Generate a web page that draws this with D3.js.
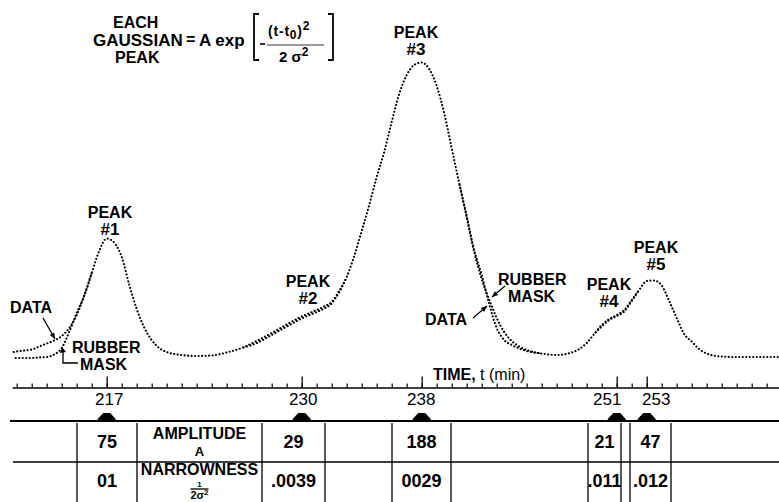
<!DOCTYPE html>
<html><head><meta charset="utf-8">
<script src="https://cdn.jsdelivr.net/npm/d3@7"></script>
<style>
body{margin:0;background:#fff;}
svg{display:block;background:#fff;}
text{font-family:"Liberation Sans",Arial,sans-serif;font-weight:bold;fill:#000;}
</style></head><body>
<svg id="c" width="779" height="502"></svg>
<script>
// ---- data ----
const times = [210.8,211,211.5,212,212.5,213,213.5,214,214.5,215,215.5,216,216.5,217,217.5,218,218.5,219,219.5,220,220.5,221,222,223,224,225,226,227,228,229,230,231,231.5,232,232.5,233,233.5,234,234.5,235,235.5,236,236.5,237,237.5,238,238.5,239,239.5,240,240.5,241,241.5,242,242.5,243,243.5,244,244.5,245,246,247,248,248.5,249,249.5,250,250.5,251,251.5,252,252.5,253,253.5,254,254.5,255,255.5,256,256.5,257,258,259,260,261,261.8];
const dataValues = [5.3,5.7,6.3,7.0,9.0,11.0,13.0,16.0,21.3,30.0,43.0,
  58.0,72.7,81.0,78.3,68.7,50.3,34.0,21.7,13.3,8.0,5.3,3.3,2.7,3.0,5.0,8.0,
  12.7,18.0,23.7,29.0,33.3,35.7,38.7,46.0,
  55.3,69.3,86.0,103.3,122.0,138.7,158.7,177.3,190.0,196.7,198.3,194.0,182.7,164.7,141.3,118.0,
  96.0,73.3,56.7,37.3,21.3,13.3,10.0,7.7,6.0,4.3,
  3.3,5.0,7.3,11.3,17.3,
  23.3,27.3,30.0,33.3,40.0,
  46.7,52.7,53.0,49.7,39.3,28.0,17.3,12.3,7.3,4.3,2.3,2.0,2.0,2.0,2.0];
const maskValues = [1.3,1.3,1.3,1.3,1.7,2.0,3.7,8.0,18.7,31.3,42.7,
  58.0,72.7,81.0,78.3,68.7,50.3,34.0,21.7,13.3,8.0,5.3,3.3,2.7,3.0,5.0,8.0,
  11.3,16.7,22.3,27.7,32.0,34.3,37.7,45.3,
  55.3,69.3,86.0,103.3,122.0,138.7,158.7,177.3,190.0,196.7,198.3,194.0,182.7,164.7,141.3,118.0,
  95.3,72.0,54.0,40.3,28.0,18.7,12.7,9.0,6.7,4.3,
  3.3,5.0,7.3,11.3,17.3,
  22.3,26.7,29.3,32.3,39.3,
  46.7,52.7,53.0,49.7,39.3,28.0,17.3,12.3,7.3,4.3,2.3,2.0,2.0,2.0,2.0];
const peakTimes = [217,230,238,251,253];
const peakNames = ["#1","#2","#3","#4","#5"];
const amplitudes = ["75","29","188","21","47"];
const narrowness = ["01",".0039","0029",".011",".012"];
const minorTicks = d3.range(211, 262);

// ---- layout ----
const svg = d3.select("#c");
const x = d3.scaleLinear().domain([210.7, 261.8]).range([12.2, 778.7]);
const y = d3.scaleLinear().domain([0, 200]).range([360, 60]);
const axisY = 387.5, barY = 421, rowY = 462;
const cellEdges = [[77,137],[262,325],[392,451],[588,621],[630,671]];
const labelCell = [137,262];
const peakLabelPos = [[110,218],[308,287],[416,38],[609,290],[656,253]];
const tickLabelShift = [2,1,-1,-10,9];

function txt(s, px, py, size, anchor, extra){
  const t = svg.append("text").attr("x",px).attr("y",py).style("font-size",size+"px")
    .attr("text-anchor",anchor||"start").text(s);
  if(extra) extra(t);
  return t;
}
function seg(x1,y1,x2,y2,w){
  svg.append("line").attr("x1",x1).attr("y1",y1).attr("x2",x2).attr("y2",y2)
    .attr("stroke","#000").attr("stroke-width",w||1.3);
}
function arrow(x1,y1,x2,y2){
  seg(x1,y1,x2,y2,1.3);
  const a = Math.atan2(y2-y1,x2-x1), L=6, W=2.6;
  const bx = x2 - L*Math.cos(a), by = y2 - L*Math.sin(a);
  const p = [[x2,y2],[bx - W*Math.sin(a), by + W*Math.cos(a)],[bx + W*Math.sin(a), by - W*Math.cos(a)]];
  svg.append("path").attr("d","M"+p.map(q=>q.join(",")).join("L")+"Z").attr("fill","#000");
}

// ---- curves (dotted) ----
const differs = i => i>=0 && i<times.length && maskValues[i]!==dataValues[i];
const line = d3.line().x(d=>x(d[0])).y(d=>y(d[1])).curve(d3.curveMonotoneX);
const maskLine = d3.line().x(d=>x(d[0])).y(d=>y(d[1])).curve(d3.curveMonotoneX)
  .defined(d=>differs(d[2])||differs(d[2]-1)||differs(d[2]+1));
const dotStyle = p => p.attr("fill","none").attr("stroke","#000").attr("stroke-width",2.1)
  .attr("stroke-linecap","round").attr("stroke-dasharray","0.1,3.4");
svg.append("path").datum(times.map((t,i)=>[t,maskValues[i],i])).attr("d",maskLine)
  .call(dotStyle).attr("stroke-dashoffset",1.5);
svg.append("path").datum(times.map((t,i)=>[t,dataValues[i],i])).attr("d",line)
  .call(dotStyle);

// ---- formula ----
txt("EACH",113,28,16);
txt("GAUSSIAN",93,46,17);
txt("PEAK",115,63,16);
txt("=",186,45,16);
txt("A exp",199,46,17);
svg.append("path").attr("d","M259,14H254V60H259").attr("fill","none").attr("stroke","#000").attr("stroke-width",1.8);
svg.append("path").attr("d","M328,14H333V60H328").attr("fill","none").attr("stroke","#000").attr("stroke-width",1.8);
seg(260,44,265,44,1.6);
seg(267,45,324,45,0.8);
txt("",268,36,14,"start",t=>{
  t.style("letter-spacing","0.8px");
  t.append("tspan").text("(t-t");
  t.append("tspan").attr("dy",3).style("font-size","12px").text("0");
  t.append("tspan").attr("dy",-3).text(")");
  t.append("tspan").attr("dy",-6).style("font-size","12px").text("2");
});
txt("",279,62,15,"start",t=>{
  t.append("tspan").text("2 \u03c3");
  t.append("tspan").attr("dy",-6).style("font-size","12px").text("2");
});

// ---- peak labels ----
peakNames.forEach((n,i)=>{
  const [px,py] = peakLabelPos[i];
  txt("PEAK",px,py,16,"middle");
  txt(n,px,py+17,17,"middle");
});

// ---- curve annotations ----
txt("DATA",10,313,16);
arrow(43,318,55,339);
txt("RUBBER",72,353,16);
txt("MASK",80,370,16);
svg.append("path").attr("d","M63,352V363H78").attr("fill","none").attr("stroke","#000").attr("stroke-width",1.3);
svg.append("path").attr("d","M60,353L62,347L66,352Z").attr("fill","#000");
txt("RUBBER",498,285,16);
txt("MASK",508,302,16);
arrow(505,286,492,297);
txt("DATA",425,325,16);
arrow(473,318,487,306);
txt("",433,380,16,"start",t=>{
  t.append("tspan").text("TIME, ");
  t.append("tspan").style("font-weight","normal").text("t (min)");
});

// ---- time axis ----
svg.append("g").attr("transform",`translate(0,${axisY})`)
  .call(d3.axisTop(x).tickValues(minorTicks).tickSize(4).tickSizeOuter(0).tickFormat(""))
  .call(g=>{g.select(".domain").attr("stroke-width",1.4);g.selectAll(".tick line").attr("stroke-width",1.2);});
svg.append("g").attr("transform",`translate(0,${axisY})`)
  .call(d3.axisBottom(x).tickValues(peakTimes).tickSize(-11).tickPadding(5).tickFormat(d3.format("d")))
  .call(g=>{g.select(".domain").remove();g.selectAll(".tick line").attr("stroke-width",1.3);
    g.selectAll("text").style("font-size","17px").style("font-weight","normal").attr("fill","#000")
      .attr("x",(d,i)=>tickLabelShift[i]);});

// ---- table ----
seg(10,barY,779,barY,2);
svg.selectAll(".mk").data(peakTimes).enter().append("path")
  .attr("transform",d=>`translate(${x(d)},${barY})`)
  .attr("d","M-9,0L-9,-2L-3.5,-8L3.5,-8L9,-2L9,0Z").attr("fill","#000");
seg(13,rowY,779,rowY,1.3);
const edges = [...new Set(cellEdges.flat().concat(labelCell))];
edges.forEach(e=>seg(e,423,e,502,1.3));
cellEdges.forEach((c,i)=>{
  const cx = (c[0]+c[1])/2;
  txt(amplitudes[i],cx,448,18,"middle");
  txt(narrowness[i],cx,487,18,"middle");
});
const lc = (labelCell[0]+labelCell[1])/2;
txt("AMPLITUDE",lc,439,16,"middle");
txt("A",lc,456,13,"middle");
txt("NARROWNESS",lc,475,16,"middle");
txt("1",lc,487,8,"middle");
seg(lc-9,489,lc+9,489,1.3);
txt("",lc,499,11,"middle",t=>{
  t.append("tspan").text("2\u03c3");
  t.append("tspan").attr("dy",-4).style("font-size","8px").text("2");
});
</script>
</body></html>
